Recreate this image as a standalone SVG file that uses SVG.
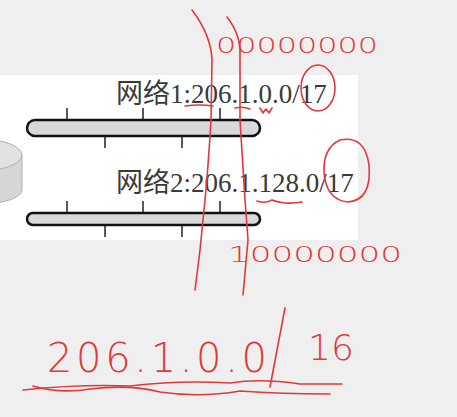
<svg xmlns="http://www.w3.org/2000/svg" width="457" height="417" viewBox="0 0 457 417">
<defs>
<style>
.bar{fill:#d9d9d9;stroke:#111;stroke-width:2.5}
.tick{stroke:#222;stroke-width:1.5}
.lbl{font-family:"Liberation Serif","Noto Sans CJK SC",serif;font-size:27px;fill:#3a3a3a}
.ink{fill:none;stroke:#e0393a;stroke-width:1.6;stroke-linecap:round;stroke-linejoin:round}
.hand{font-family:"DejaVu Sans","Liberation Sans",sans-serif;font-weight:200;fill:#e0393a}
</style>
</defs>
<rect x="0" y="0" width="457" height="417" fill="#efefef"/>
<rect x="0" y="75" width="358" height="165" fill="#ffffff"/>

<g id="router">
<path d="M-62,155 L-62,190 A42,14 0 0 0 22,190 L22,155 Z" fill="#d6d6d6" stroke="#b0b0b0" stroke-width="1"/>
<ellipse cx="-20" cy="155" rx="42" ry="16" fill="#e2e2e2" stroke="#b0b0b0" stroke-width="1"/>
</g>

<g id="network1">
<text class="lbl" x="116" y="103">网络1:206.1.0.0/17</text>
<line class="tick" x1="67" y1="108" x2="67" y2="120"/>
<line class="tick" x1="143" y1="108" x2="143" y2="120"/>
<line class="tick" x1="220" y1="108" x2="220" y2="120"/>
<line class="tick" x1="105" y1="136" x2="105" y2="148"/>
<line class="tick" x1="182" y1="136" x2="182" y2="148"/>
<rect class="bar" x="27" y="120" width="233" height="16" rx="8"/>
</g>

<g id="network2">
<text class="lbl" x="116" y="192">网络2:206.1.128.0/17</text>
<line class="tick" x1="67" y1="201" x2="67" y2="213"/>
<line class="tick" x1="143" y1="201" x2="143" y2="213"/>
<line class="tick" x1="220" y1="201" x2="220" y2="213"/>
<line class="tick" x1="105" y1="225" x2="105" y2="237"/>
<line class="tick" x1="182" y1="225" x2="182" y2="237"/>
<rect class="bar" x="27" y="213" width="233" height="12" rx="6"/>
</g>

<g id="annotations">
<path class="ink" d="M192,10 Q211,35 212,60 L211,120 Q208,170 205,200 L200,250 L195,290"/>
<path class="ink" d="M227,17 Q241,35 240,55 L240,120 Q243,170 245,200 L248,240 L243,295"/>
<ellipse class="ink" cx="318" cy="88" rx="17" ry="23"/>
<path class="ink" d="M340,140 Q365,135 369,165 Q372,200 348,202 Q326,200 324,172 Q323,148 340,140"/>
<path class="ink" d="M185,106 Q200,104 213,106"/>
<path class="ink" d="M235,108 Q243,106 250,109"/>
<path class="ink" d="M260,108 L263,113 L266,109 L269,113 L272,108"/>
<path class="ink" d="M257,201 Q265,204 272,200 Q285,205 302,202"/>
<text class="hand" x="216" y="53" font-size="22" textLength="162" lengthAdjust="spacingAndGlyphs">00000000</text>
<text class="hand" x="228" y="262" font-size="22" textLength="174" lengthAdjust="spacingAndGlyphs">10000000</text>
<text class="hand" x="47" y="372" font-size="40" textLength="220" lengthAdjust="spacing">206.1.0.0</text>
<path class="ink" d="M285,308 L270,387"/>
<text class="hand" x="308" y="360" font-size="36">16</text>
<path class="ink" d="M23,390 Q80,384 130,386 Q180,380 230,383 Q260,378 300,384 L342,384"/>
<path class="ink" d="M33,386 Q60,394 90,389 Q130,384 160,392 Q200,398 240,391 Q280,394 330,394"/>
</g>
</svg>
